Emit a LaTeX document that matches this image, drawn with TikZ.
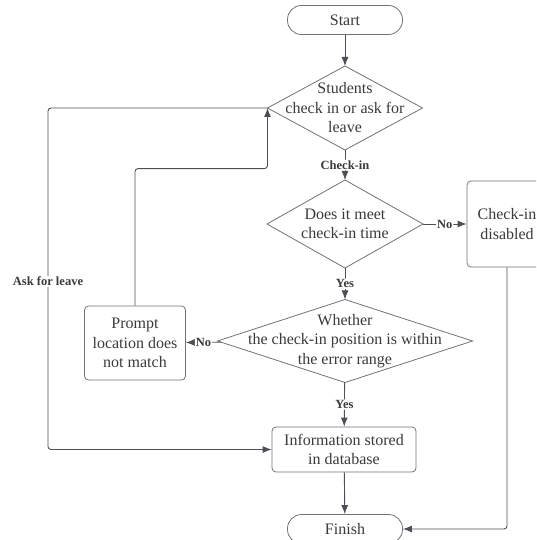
\documentclass[tikz,border=0pt]{standalone}
\usepackage{fontspec}
\setmainfont{Liberation Serif}
\usepackage{xcolor}
\usetikzlibrary{shapes.geometric,arrows.meta,positioning}

\definecolor{linegray}{HTML}{4A505A}
\definecolor{bordergray}{HTML}{6E727A}
\definecolor{textgray}{HTML}{3A3A3A}

\begin{document}
\begin{tikzpicture}[x=1pt, y=-1pt,
    txt/.style={font=\fontsize{16}{19.5}\selectfont, text=textgray, align=center},
    terminal/.style={rectangle, draw=bordergray, line width=0.8pt, rounded corners=14pt, minimum width=115pt, minimum height=29pt, inner sep=0pt, txt},
    decision/.style={diamond, draw=bordergray, line width=0.8pt, inner sep=0pt, outer sep=0pt},
    box/.style={rectangle, draw=bordergray, line width=0.8pt, rounded corners=4pt, inner sep=0pt, txt},
    flow/.style={draw=linegray, line width=0.9pt, rounded corners=3pt, -{Latex[length=9pt,width=7pt]}},
    tag/.style={font=\bfseries\fontsize{12.5}{14}\selectfont, text=textgray, fill=white, inner sep=1pt}
]
    \useasboundingbox (0,0) rectangle (536,540);
    \clip (0,0) rectangle (536,540);

    % Start and finish
    \node[terminal] (start) at (345,20) {Start};
    \node[terminal] (finish) at (345,529) {Finish};

    % Decisions
    \node[decision, minimum width=155pt, minimum height=84pt,
        label={[txt]center:Students\\check in or ask for\\leave}] (ask) at (345,108) {};
    \node[decision, minimum width=156pt, minimum height=88pt,
        label={[txt]center:Does it meet\\check-in time}] (time) at (345,224) {};
    \node[decision, minimum width=255pt, minimum height=83pt,
        label={[txt]center:Whether\\the check-in position is within\\the error range}] (range) at (345,341) {};

    % Process boxes
    \node[box, minimum width=80pt, minimum height=86pt] (disabled) at (507,224) {Check-in\\disabled};
    \node[box, minimum width=101pt, minimum height=74pt] (prompt) at (135,343) {Prompt\\location does\\not match};
    \node[box, minimum width=144pt, minimum height=45pt] (info) at (344,449.5) {Information stored\\in database};

    \coordinate (leavecorner) at (48,449.5);

    % Connections
    \draw[flow] (start) -- (ask);
    \draw[flow] (ask) -- node[tag] {Check-in} (time);
    \draw[flow] (time) -- node[tag] {No} (disabled);
    \draw[flow] (time) -- node[tag] {Yes} (range);
    \draw[flow] (range) -- node[tag] {No} (prompt);
    \draw[flow] (range) -- node[tag] {Yes} (info);
    \draw[flow] (info) -- (finish);
    \draw[flow] (prompt.north) -- ++(0,-137) -| (ask.west);
    \draw[flow] (ask.west) -| node[tag, pos=0.754] {Ask for leave} (leavecorner) -- (info.west);
    \draw[flow] (disabled.south) |- (finish.east);
\end{tikzpicture}
\end{document}
